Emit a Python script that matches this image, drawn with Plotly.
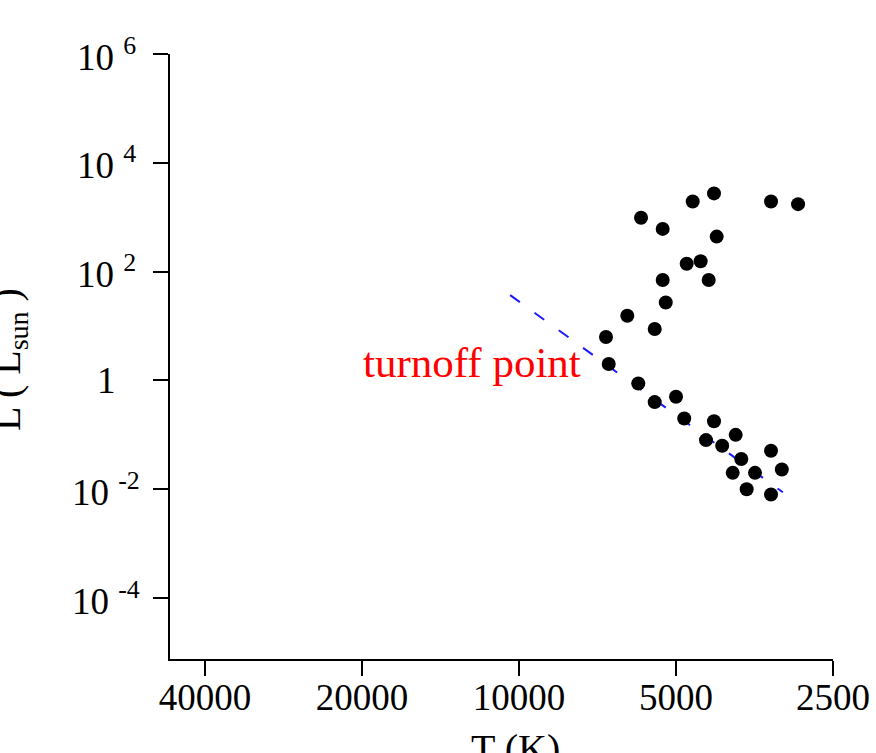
import plotly.graph_objects as go
import math

# ---- data ----
giant_T = [5835, 5303, 4645, 4228, 4178, 3287, 2917, 4770, 4485, 5303, 4328, 5232, 6200, 5493, 6812]
giant_L = [980, 610, 1950, 2740, 440, 1950, 1740, 140, 155, 70, 70, 27, 15.5, 8.8, 6.3]
ms_T = [6730, 5906, 5493, 5000, 4822, 4228, 4380, 4078, 3842, 3748, 3893, 3528, 3660, 3287, 3134, 3287]
ms_L = [2.0, 0.88, 0.40, 0.50, 0.20, 0.178, 0.080, 0.063, 0.10, 0.036, 0.020, 0.020, 0.010, 0.051, 0.023, 0.008]
fit_T = [10400, 3120]
fit_L = [37, 0.0088]

x_tick_vals = [40000, 20000, 10000, 5000, 2500]
x_tick_text = ["40000", "20000", "10000", "5000", "2500"]
y_tick_vals = [1e-4, 1e-2, 1, 1e2, 1e4, 1e6]
y_tick_text = ["10 <sup>-4</sup>", "10 <sup>-2</sup>", "1", "10 <sup>2</sup>", "10 <sup>4</sup>", "10 <sup>6</sup>"]

label_text = "turnoff point"
label_T, label_L = 12300, 2.15

W, H = 876, 753
ML, MR, MT, MB = 170, 43, 54, 94
PW, PH = W - ML - MR, H - MT - MB

SERIF = "Liberation Serif, serif"

fig = go.Figure()
fig.add_trace(go.Scatter(x=fit_T, y=fit_L, mode="lines",
                         line=dict(color="#1a1aff", width=2, dash="12px,18px"),
                         hoverinfo="skip", showlegend=False))
fig.add_trace(go.Scatter(x=giant_T + ms_T, y=giant_L + ms_L, mode="markers",
                         marker=dict(color="black", size=14), showlegend=False))

annotations = []
for v, t in zip(y_tick_vals, y_tick_text):
    annotations.append(dict(x=(106 - ML) / PW, xref="paper", y=math.log10(v), yref="y",
                            text=t, showarrow=False, xanchor="center", yanchor="middle",
                            font=dict(family=SERIF, size=37, color="black")))
annotations.append(dict(x=math.log10(label_T), y=math.log10(label_L), xref="x", yref="y",
                        text=label_text, showarrow=False, xanchor="center", yanchor="middle",
                        font=dict(family=SERIF, size=43, color="red")))
annotations.append(dict(x=(515 - ML) / PW, xref="paper", y=-(724 - MT - PH) / PH, yref="paper",
                        text="T (K)", showarrow=False, xanchor="center", yanchor="top",
                        font=dict(family=SERIF, size=40, color="black")))
annotations.append(dict(x=(9 - ML) / PW, xref="paper", y=(MT + PH - 360) / PH, yref="paper",
                        text="L ( L<sub>sun</sub> )", textangle=-90, showarrow=False,
                        xanchor="center", yanchor="middle",
                        font=dict(family=SERIF, size=40, color="black")))

fig.update_layout(
    width=W, height=H,
    margin=dict(l=ML, r=MR, t=MT, b=MB, pad=0, autoexpand=False),
    plot_bgcolor="white", paper_bgcolor="white",
    showlegend=False,
    annotations=annotations,
    xaxis=dict(type="log", range=[math.log10(46700), math.log10(2500)],
               tickvals=x_tick_vals, ticktext=x_tick_text, automargin=False,
               ticks="outside", ticklen=15, tickwidth=2, tickcolor="black",
               ticklabelstandoff=-10,
               showline=True, linewidth=2, linecolor="black", mirror=False,
               showgrid=False, zeroline=False,
               tickfont=dict(family=SERIF, size=37, color="black")),
    yaxis=dict(type="log", range=[-5.12, 6], automargin=False,
               tickvals=y_tick_vals, showticklabels=False,
               ticks="outside", ticklen=15, tickwidth=2, tickcolor="black",
               showline=True, linewidth=2, linecolor="black", mirror=False,
               showgrid=False, zeroline=False),
)

fig.write_html("out.html")
